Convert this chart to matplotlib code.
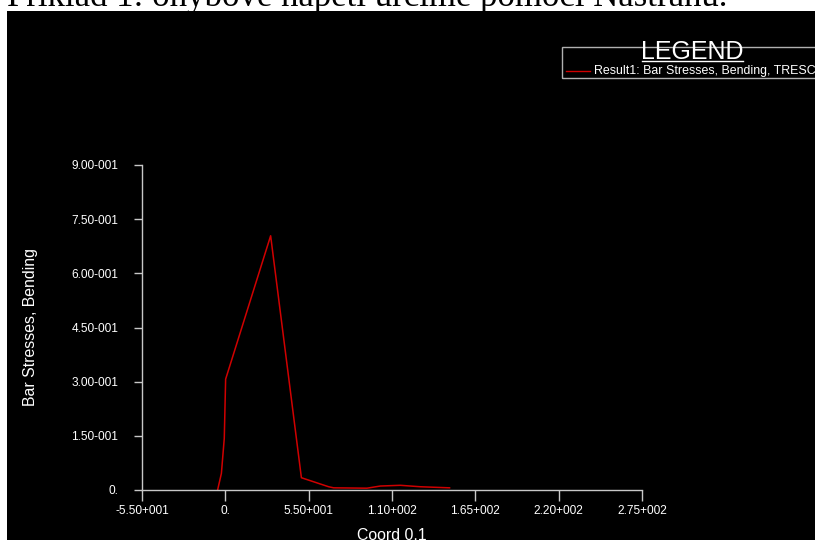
import matplotlib
matplotlib.use("Agg")
import matplotlib.pyplot as plt
from matplotlib.patches import Rectangle
from matplotlib.lines import Line2D

# data (Coord 0.1 vs bending stress)
coord = [-5.1, -2.6, -0.7, 0.2, 29.9, 50.2, 68.2, 71.5, 93.5, 102.3, 115.5, 128.7, 148.0]
stress = [0.0, 0.046, 0.143, 0.307, 0.704, 0.034, 0.009, 0.006, 0.005, 0.011, 0.013, 0.009, 0.006]

x_ticks = [-55, 0, 55, 110, 165, 220, 275]
x_labels = ["-5.50+001", "0.", "5.50+001", "1.10+002", "1.65+002", "2.20+002", "2.75+002"]
y_ticks = [0, 0.15, 0.30, 0.45, 0.60, 0.75, 0.90]
y_labels = ["0.", "1.50-001", "3.00-001", "4.50-001", "6.00-001", "7.50-001", "9.00-001"]

series_label = "Result1: Bar Stresses, Bending, TRESCA"
caption = "Příklad 1: ohybové napětí určíme pomocí Nastranu."

W, H = 815, 540
plt.rcParams['font.family'] = ['Liberation Sans', 'DejaVu Sans']
fig = plt.figure(figsize=(W / 100, H / 100), dpi=100, facecolor="white")

# cropped caption line above the screenshot
fig.text(7 / W, 1 - 6 / H, caption, family="Liberation Serif", fontsize=25,
         va="baseline", ha="left", color="black", zorder=-5)

# black screenshot panel
bg = fig.add_axes([7 / W, 0, (W - 7) / W, (H - 11) / H])
bg.set_facecolor("black")
bg.set_xticks([])
bg.set_yticks([])
for s in bg.spines.values():
    s.set_visible(False)

ax = fig.add_axes([142 / W, 50 / H, 500 / W, 325 / H])
ax.patch.set_alpha(0)
ax.plot(coord, stress, color="#d00000", lw=1.1)
ax.set_xlim(-55, 275)
ax.set_ylim(0, 0.9)
for side in ("top", "right"):
    ax.spines[side].set_visible(False)
for side in ("left", "bottom"):
    ax.spines[side].set_color("#c8c8c8")
    ax.spines[side].set_linewidth(1)
ax.set_xticks(x_ticks, x_labels)
ax.set_yticks(y_ticks, y_labels)
ax.tick_params(axis="x", colors="#c8c8c8", labelcolor="white", length=8, width=1,
               pad=3, labelsize=8.6)
ax.tick_params(axis="y", colors="#c8c8c8", labelcolor="white", length=6, width=1,
               pad=11, labelsize=8.6)
ax.set_xlabel("Coord 0.1", color="white", fontsize=11.4, labelpad=8)
ax.set_ylabel("Bar Stresses, Bending", color="white", fontsize=11.4, labelpad=24)

# legend box in the top right corner
fig.patches.append(Rectangle((562 / W, 1 - 78 / H), 260 / W, 31 / H,
                             transform=fig.transFigure, fill=False,
                             edgecolor="#b0b0b0", lw=1))
fig.text(692 / W, 1 - 59 / H, "LEGEND", color="white", fontsize=18,
         ha="center", va="baseline")
fig.lines.append(Line2D([642 / W, 743 / W], [1 - 61 / H, 1 - 61 / H],
                        transform=fig.transFigure, color="white", lw=1))
fig.lines.append(Line2D([566 / W, 590 / W], [1 - 71 / H, 1 - 71 / H],
                        transform=fig.transFigure, color="#d00000", lw=1))
fig.text(594 / W, 1 - 71 / H, series_label, color="white", fontsize=8.9,
         ha="left", va="center")

fig.savefig("out.png", dpi=100, facecolor="white")
